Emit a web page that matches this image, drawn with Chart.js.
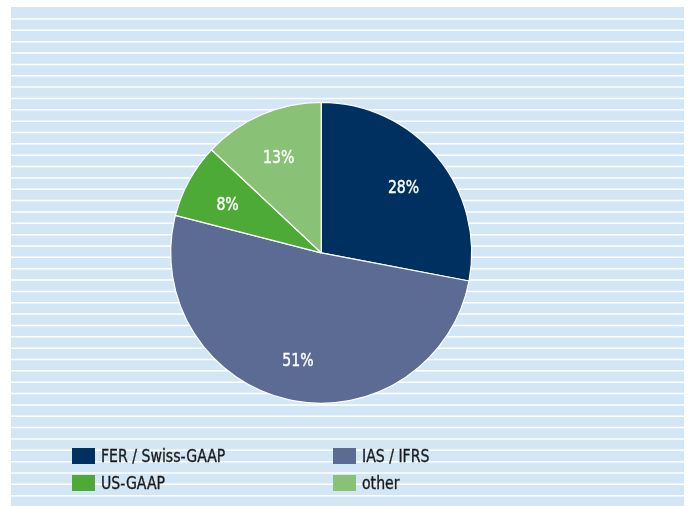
<!DOCTYPE html>
<html>
<head>
<meta charset="utf-8">
<script src="https://cdn.jsdelivr.net/npm/chart.js@4/dist/chart.umd.min.js"></script>
<style>
  html, body { margin: 0; padding: 0; background: #fff; }
  #wrap { position: relative; width: 689px; height: 506px; }
  #pie { position: absolute; left: 0; top: 0; }
  #legend {
    position: absolute; left: 72px; top: 447px; width: 420px;
    display: grid; grid-template-columns: 261px 150px; row-gap: 10px;
    font-family: 'DejaVu Sans Condensed', 'Liberation Sans Narrow', sans-serif;
    font-size: 18px; color: #1a1a1a;
  }
  .item { display: flex; align-items: center; height: 17px; white-space: nowrap; }
  .box { width: 23px; height: 16px; margin-right: 6px; flex: none; }
  .txt { display: inline-block; transform: scaleX(0.87); transform-origin: left center; -webkit-text-stroke: 0.35px #1a1a1a; }
</style>
</head>
<body>
<div id="wrap">
  <canvas id="pie" width="689" height="506"></canvas>
  <div id="legend"></div>
</div>
<script>
const categories = ['FER / Swiss-GAAP', 'IAS / IFRS', 'US-GAAP', 'other'];
const shares = [28, 51, 8, 13];
const sliceLabels = ['28%', '51%', '8%', '13%'];
const colors = ['#00305f', '#5b6b93', '#4eaa37', '#89c176'];

const font = "'DejaVu Sans Condensed', 'Liberation Sans Narrow', sans-serif";

// striped light-blue panel behind the pie
const stripedBackground = {
  id: 'stripedBackground',
  beforeDraw: (chart) => {
    const { ctx } = chart;
    ctx.save();
    ctx.fillStyle = '#d3e6f5';
    ctx.fillRect(11, 7, 673, 499);
    ctx.strokeStyle = '#ffffff';
    ctx.lineWidth = 1.5;
    for (let y = 19; y < 506; y += 11.35) {
      ctx.beginPath();
      ctx.moveTo(11, y);
      ctx.lineTo(684, y);
      ctx.stroke();
    }
    ctx.restore();
  },
};

const sliceText = {
  id: 'sliceText',
  afterDatasetsDraw: (chart) => {
    const { ctx } = chart;
    const meta = chart.getDatasetMeta(0);
    ctx.save();
    ctx.fillStyle = '#ffffff';
    ctx.strokeStyle = '#ffffff';
    ctx.lineWidth = 0.4;
    ctx.font = `18px ${font}`;
    ctx.textAlign = 'center';
    ctx.textBaseline = 'middle';
    meta.data.forEach((arc, i) => {
      const { x, y, startAngle, endAngle, outerRadius } = arc.getProps(['x', 'y', 'startAngle', 'endAngle', 'outerRadius'], true);
      const mid = (startAngle + endAngle) / 2;
      const r = outerRadius * 0.71;
      const tx = x + Math.cos(mid) * r;
      const ty = y + Math.sin(mid) * r + 4;
      ctx.save();
      ctx.translate(tx, ty);
      ctx.scale(0.87, 1);
      ctx.fillText(sliceLabels[i], 0, 0);
      ctx.strokeText(sliceLabels[i], 0, 0);
      ctx.restore();
    });
    ctx.restore();
  },
};

const renderLegend = () => {
  const legend = document.getElementById('legend');
  legend.innerHTML = categories.map((c, i) => `<div class="item"><span class="box" style="background:${colors[i]}"></span><span class="txt">${c}</span></div>`).join('');
};

new Chart(document.getElementById('pie'), {
  type: 'pie',
  data: {
    labels: categories,
    datasets: [{
      data: shares,
      backgroundColor: colors,
      borderColor: '#ffffff',
      borderWidth: 1.2,
    }],
  },
  options: {
    responsive: false,
    animation: false,
    radius: 150.5,
    layout: { padding: { left: 20, right: 66.6, top: 102.3, bottom: 102.7 } },
    plugins: {
      legend: { display: false },
      tooltip: { enabled: false },
    },
  },
  plugins: [stripedBackground, sliceText],
});

renderLegend();
</script>
</body>
</html>
